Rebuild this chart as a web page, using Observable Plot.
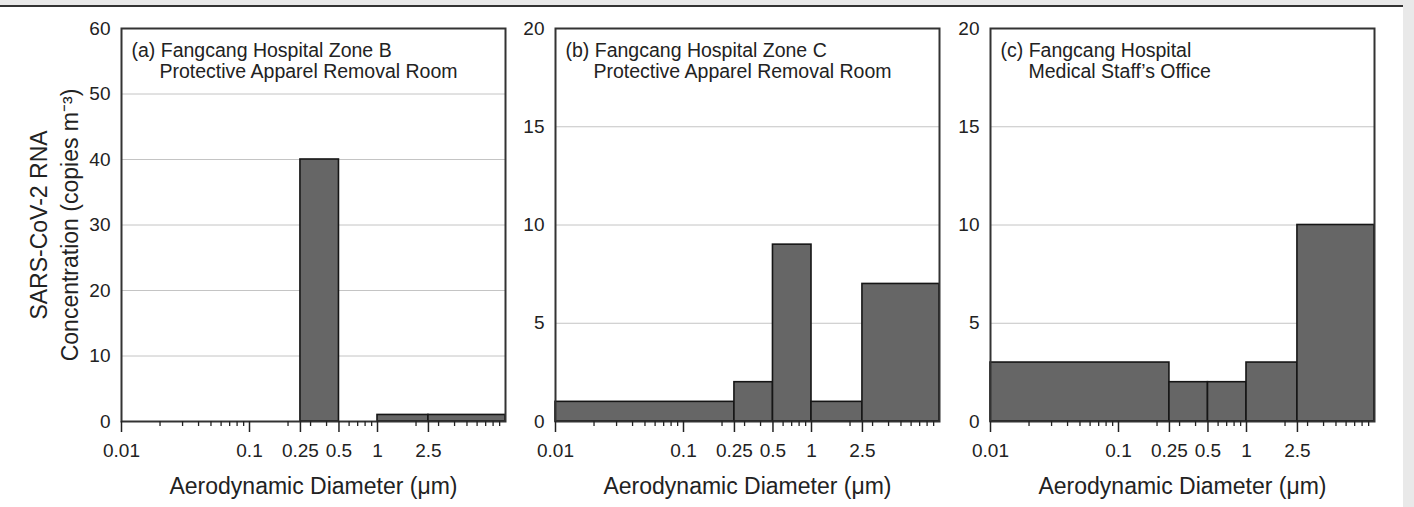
<!DOCTYPE html>
<html>
<head>
<meta charset="utf-8">
<script src="https://cdn.jsdelivr.net/npm/d3@7"></script>
<script src="https://cdn.jsdelivr.net/npm/@observablehq/plot@0.6"></script>
<style>
  html, body { margin: 0; padding: 0; background: #e9e9e9; }
  #page { position: relative; width: 1414px; height: 507px; overflow: hidden; }
  #sheet { position: absolute; left: 0; top: 7px; width: 1403px; height: 500px; background: #fff; }
  #rule { position: absolute; left: 0; top: 5px; width: 1403px; height: 2px; background: #333; }
  .panel { position: absolute; top: 0; }
</style>
</head>
<body>
<div id="page">
  <div id="sheet"></div>
  <div id="rule"></div>
  <div class="panel" id="pa" style="left:0px"></div>
  <div class="panel" id="pb" style="left:510px"></div>
  <div class="panel" id="pc" style="left:945px"></div>
</div>
<script>
// ---- data ----
const binLower = [0.01, 0.25, 0.5, 1, 2.5];
const binUpper = [0.25, 0.5, 1, 2.5, 10];
const valuesA = [0, 40, 0, 1, 1];
const valuesB = [1, 2, 9, 1, 7];
const valuesC = [3, 2, 2, 3, 10];
const majorTicks = [0.01, 0.1, 0.25, 0.5, 1, 2.5];
const majorTickLabels = ["0.01", "0.1", "0.25", "0.5", "1", "2.5"];
const minorTicks = [0.02, 0.03, 0.04, 0.05, 0.06, 0.07, 0.08, 0.09, 0.2, 0.3, 0.4, 0.6, 0.7, 0.8, 0.9, 2, 3, 4, 5, 6, 7, 8, 9];
const yTicksA = [0, 10, 20, 30, 40, 50, 60];
const yTicksBC = [0, 5, 10, 15, 20];
const titleLine1 = ["(a) Fangcang Hospital Zone B", "(b) Fangcang Hospital Zone C", "(c) Fangcang Hospital"];
const titleLine2 = ["Protective Apparel Removal Room", "Protective Apparel Removal Room", "Medical Staff\u2019s Office"];
const xTitle = "Aerodynamic Diameter (\u03bcm)";
const yTitle = "SARS-CoV-2 RNA\nConcentration (copies m\u207b\u00b3)";

const FONT = "'Liberation Sans', Arial, Helvetica, sans-serif";

function panel(values, yMax, yTicks, idx, showYLabel, marginLeft, width) {
  const rows = binLower.map((lo, i) => ({lo, hi: binUpper[i], v: values[i]}));
  const tickRows = majorTicks.map((t, i) => ({t, label: majorTickLabels[i]}));
  return Plot.plot({
    width, height: 507,
    marginLeft, marginRight: width - marginLeft - 384, marginTop: 28, marginBottom: 86,
    x: {type: "log", domain: [0.01, 10]},
    y: {domain: [0, yMax]},
    style: {background: "transparent", overflow: "visible", fontFamily: FONT, fontSize: "19px", color: "#222"},
    marks: [
      Plot.gridY(yTicks, {stroke: "#c4c4c4", strokeOpacity: 1, strokeWidth: 1}),
      Plot.rect(rows, {x1: "lo", x2: "hi", y1: 0, y2: "v", fill: "#666", stroke: "#161616", strokeWidth: 1.6, inset: 0}),
      Plot.frame({stroke: "#333", strokeWidth: 2}),
      Plot.axisX(majorTicks, {tickSize: 11, tickFormat: () => "", label: null, stroke: "#222", strokeWidth: 1.5}),
      Plot.axisX(minorTicks, {tickSize: 5, tickFormat: () => "", label: null, stroke: "#222", strokeWidth: 1.3}),
      Plot.text(tickRows, {x: "t", text: "label", frameAnchor: "bottom", dy: 22, lineAnchor: "top", textAnchor: "middle", fill: "#222"}),
      Plot.axisY(yTicks, {tickSize: 0, tickPadding: 11, label: null}),
      Plot.text([titleLine1[idx]], {text: d => d, frameAnchor: "top-left", dx: 10, dy: 15, lineAnchor: "top", textAnchor: "start", fontSize: 19.5, fill: "#222"}),
      Plot.text([titleLine2[idx]], {text: d => d, frameAnchor: "top-left", dx: 38, dy: 36, lineAnchor: "top", textAnchor: "start", fontSize: 19.5, fill: "#222"}),
      Plot.text([xTitle], {text: d => d, frameAnchor: "bottom", dy: 72, lineAnchor: "bottom", fontSize: 23, fill: "#222"}),
      showYLabel ? Plot.text([yTitle], {text: d => d, frameAnchor: "left", dx: -68.5, rotate: -90, textAnchor: "middle", lineAnchor: "middle", lineHeight: 1.35, fontSize: 23, fill: "#222"}) : null
    ]
  });
}

document.getElementById("pa").append(panel(valuesA, 60, yTicksA, 0, true, 121, 510));
document.getElementById("pb").append(panel(valuesB, 20, yTicksBC, 1, false, 45, 435));
document.getElementById("pc").append(panel(valuesC, 20, yTicksBC, 2, false, 45, 439));
</script>
</body>
</html>
